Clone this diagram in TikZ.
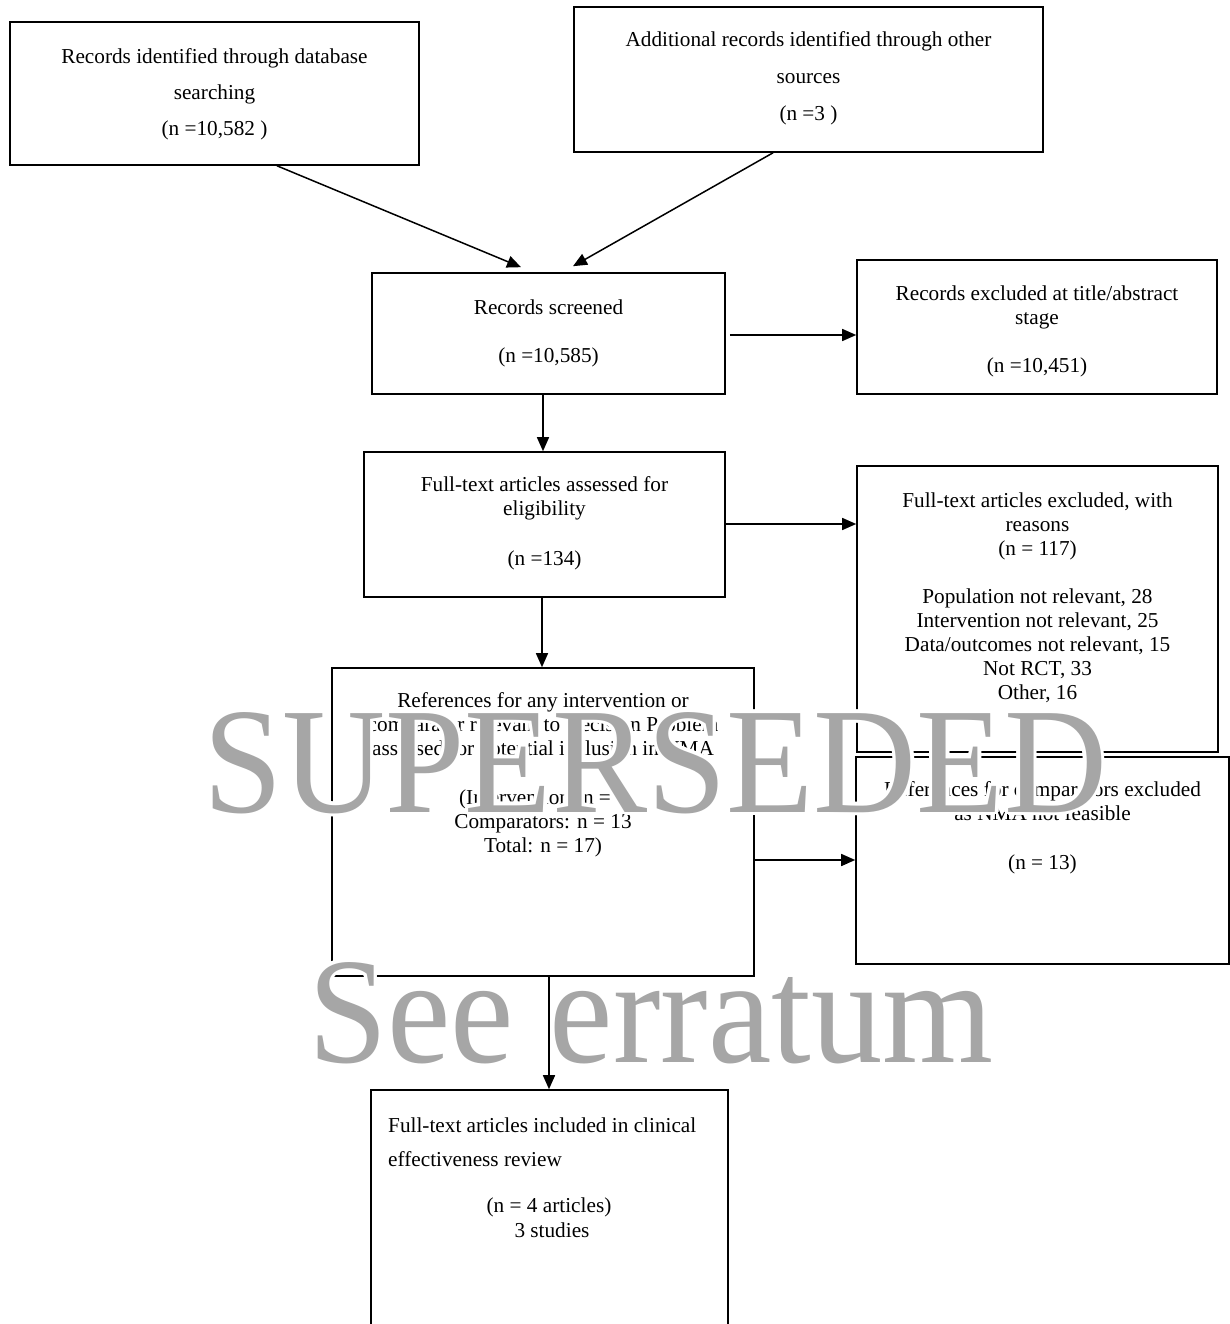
\documentclass[tikz,border=0pt]{standalone}
\usepackage{fontspec}
\setmainfont{Liberation Serif}
\newfontfamily\wmfont[FakeStretch=0.945]{Liberation Serif}
\usetikzlibrary{arrows.meta,calc}
\definecolor{wmgray}{RGB}{166,166,166}
\begin{document}
\begin{tikzpicture}[x=1pt,y=-1pt,
  box/.style={draw, line width=1.6pt, inner sep=0pt},
  lbl/.style={inner sep=0pt, anchor=base, font=\fontsize{21.25pt}{24pt}\selectfont},
  arr/.style={line width=1.5pt, -{Triangle[length=14pt,width=12pt]}},
  wm/.style={inner sep=0pt, anchor=base west, font=\wmfont\fontsize{151pt}{151pt}\selectfont, text=wmgray},
  wmhalo/.style={wm, text=white},
]
\useasboundingbox (0,0) rectangle (1230,1324);
\fill[white] (0,0) rectangle (1230,1324);

% boxes
\node[box, minimum width=409pt, minimum height=143pt] (b1) at (214.5,93.5) {};
\node[box, minimum width=469pt, minimum height=145pt] (b2) at (808.5,79.5) {};
\node[box, minimum width=353pt, minimum height=121pt] (b3) at (548.5,333.5) {};
\node[box, minimum width=360pt, minimum height=134pt] (b4) at (1037,327) {};
\node[box, minimum width=361pt, minimum height=145pt] (b5) at (544.5,524.5) {};
\node[box, minimum width=361pt, minimum height=286pt] (b6) at (1037.5,609) {};
\node[box, minimum width=422pt, minimum height=308pt] (b7) at (543,822) {};
\node[box, minimum width=373pt, minimum height=207pt] (b8) at (1042.5,860.5) {};
\node[box, minimum width=357pt, minimum height=270pt] (b9) at (549.5,1225) {};

% box texts
\node[lbl] (t1) at (214.5,64) {\begin{tabular}[t]{@{}c@{}}Records identified through database\\[12pt] searching\\[12pt] (n =10,582 )\end{tabular}};
\node[lbl] (t2) at (808.5,47) {\begin{tabular}[t]{@{}c@{}}Additional records identified through other\\[13pt] sources\\[13pt] (n =3 )\end{tabular}};
\node[lbl] (t3) at (548.5,314) {\begin{tabular}[t]{@{}c@{}}Records screened\\[24pt] (n =10,585)\end{tabular}};
\node[lbl] (t4) at (1037,300) {\begin{tabular}[t]{@{}c@{}}Records excluded at title/abstract\\ stage\\[24pt] (n =10,451)\end{tabular}};
\node[lbl] (t5) at (544.5,491) {\begin{tabular}[t]{@{}c@{}}Full-text articles assessed for\\ eligibility\\[26pt] (n =134)\end{tabular}};
\node[lbl] (t6) at (1037.5,507) {\begin{tabular}[t]{@{}c@{}}Full-text articles excluded, with\\ reasons\\ (n = 117)\\[24pt] Population not relevant, 28\\ Intervention not relevant, 25\\ Data/outcomes not relevant, 15\\ Not RCT, 33\\ Other, 16\end{tabular}};
\node[lbl] (t7) at (543,707) {\begin{tabular}[t]{@{}c@{}}References for any intervention or\\ comparator relevant to Decision Problem\\ assessed for potential inclusion in NMA\\[25pt] (Intervention: n = 4\\ Comparators: n = 13\\ Total: n = 17)\end{tabular}};
\node[lbl] (t8) at (1042.5,796) {\begin{tabular}[t]{@{}c@{}}References for comparators excluded\\ as NMA not feasible\\[25pt] (n = 13)\end{tabular}};
\node[lbl, anchor=base west] (t9a) at (388,1132) {\begin{tabular}[t]{@{}l@{}}Full-text articles included in clinical\\[10pt] effectiveness review\end{tabular}};
\node[lbl] (t9b) at (549,1212) {\begin{tabular}[t]{@{}c@{}}(n = 4 articles)\\[1pt] \hspace*{6pt}3 studies\end{tabular}};

% connectors
\draw[arr] ($(b1.south)+(62.5,0)$) -- ($(b3.north)+(-27.5,-5)$);
\draw[arr] ($(b2.south)+(-35.5,0)$) -- ($(b3.north)+(24.5,-6)$);
\draw[arr] ($(b3.east)+(4,1.5)$) -- ($(b4.west |- b3.east)+(0,1.5)$);
\draw[arr] ($(b3.south)+(-5.5,0)$) -- ($(b5.north)+(-1.5,0)$);
\draw[arr] ($(b5.east)+(0,-0.5)$) -- ($(b6.west |- b5.east)+(0,-0.5)$);
\draw[arr] ($(b5.south)+(-2.5,0)$) -- ($(b7.north)+(-1,0)$);
\draw[arr] ($(b7.east)+(0,38)$) -- ($(b8.west |- b7.east)+(0,38)$);
\draw[arr] ($(b7.south)+(6,0)$) -- ($(b9.north)+(-0.5,0)$);

% watermark with white halo
\coordinate (wsup) at (203,812);
\coordinate (wsee) at (308,1062);
\foreach \k in {0,...,15} {
  \node[wmhalo, name=hsup\k] at ($(wsup)+({\k*22.5}:3.2)$) {SUPERSEDED};
  \node[wmhalo, name=hsee\k] at ($(wsee)+({\k*22.5}:3.2)$) {See erratum};
}
\node[wm] (wm1) at (wsup) {SUPERSEDED};
\node[wm] (wm2) at (wsee) {See erratum};
\end{tikzpicture}
\end{document}
